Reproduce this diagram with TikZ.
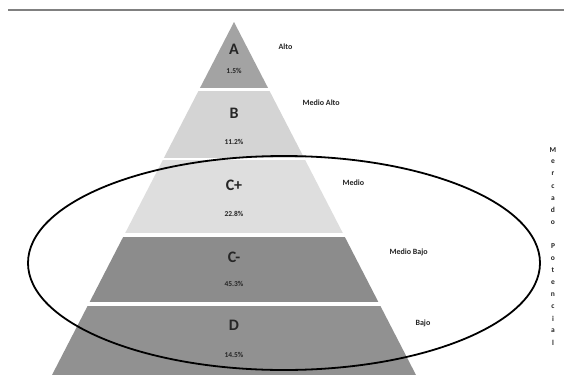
\documentclass[tikz,border=0pt]{standalone}
\usepackage{fontspec}
\setmainfont{Carlito}
\begin{document}
\begin{tikzpicture}[x=1pt,y=-1pt,
  big/.style={font=\bfseries\fontsize{16}{16}\selectfont, text=black!85},
  pct/.style={font=\bfseries\fontsize{7.5}{7.5}\selectfont, text=black!85},
  lab/.style={font=\bfseries\fontsize{8}{8}\selectfont, text=black!85, anchor=west},
  vlab/.style={font=\bfseries\fontsize{7.5}{7.5}\selectfont, text=black!85}]
\useasboundingbox (0,0) rectangle (564,375);
\fill[white] (0,0) rectangle (564,375);
\draw[black!50, line width=1.1pt] (8,10) -- (564,10);
\begin{scope}
\clip (234,22) -- (416,375) -- (52,375) -- cycle;
\fill[black!36] (0,22) rectangle (564,88);
\fill[black!17] (0,91) rectangle (564,158);
\fill[black!13] (0,160) rectangle (564,233);
\fill[black!45] (0,237) rectangle (564,302);
\fill[black!43] (0,306) rectangle (564,375);
\end{scope}
\node[big] (na) at (234,49) {A};
\node[pct] (pa) at (234,71) {1.5\%};
\node[big] (nb) at (234,113) {B};
\node[pct] (pb) at (234,142) {11.2\%};
\node[big] (nc) at (234,185) {C+};
\node[pct] (pc) at (234,214) {22.8\%};
\node[big] (nd) at (234,257) {C-};
\node[pct] (pd) at (234,284) {45.3\%};
\node[big] (ne) at (234,325) {D};
\node[pct] (pe) at (234,355) {14.5\%};
\node[lab] (la) at (275,47) {Alto};
\node[lab] (lb) at (299,103) {Medio Alto};
\node[lab] (lc) at (339,183) {Medio};
\node[lab] (ld) at (386,252) {Medio Bajo};
\node[lab] (le) at (412,323) {Bajo};
\draw[black, line width=1.8pt] (284,263) ellipse [x radius=256, y radius=107];
\foreach \ch [count=\i] in {M,e,r,c,a,d,o, ,P,o,t,e,n,c,i,a,l}{
  \node[vlab] (v\i) at (553,{150+(\i-1)*12.06}) {\ch};
}
\end{tikzpicture}
\end{document}
